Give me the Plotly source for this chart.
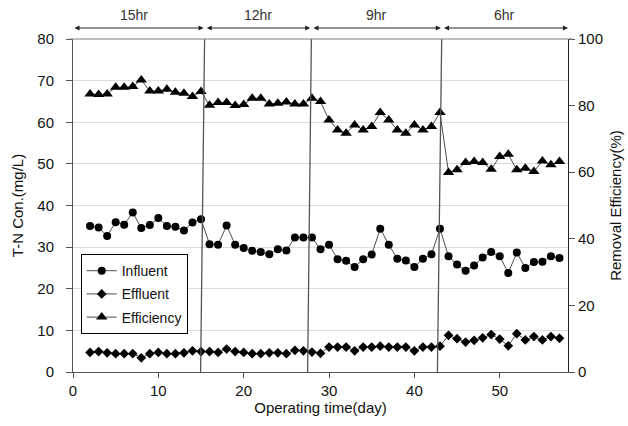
import plotly.graph_objects as go

days = [2, 3, 4, 5, 6, 7, 8, 9, 10, 11, 12, 13, 14, 15, 16, 17, 18, 19, 20, 21,
        22, 23, 24, 25, 26, 27, 28, 29, 30, 31, 32, 33, 34, 35, 36, 37, 38, 39, 40,
        41, 42, 43, 44, 45, 46, 47, 48, 49, 50, 51, 52, 53, 54, 55, 56, 57]

influent = [35.1, 34.7, 32.7, 36.0, 35.4, 38.3, 34.6, 35.3, 37.0, 35.1, 34.9, 34.0,
            35.9, 36.7, 30.7, 30.6, 35.2, 30.6, 29.8, 29.1, 28.8, 28.3, 29.5, 29.2,
            32.3, 32.3, 32.3, 29.5, 30.6, 27.1, 26.7, 25.2, 27.1, 28.2, 34.4, 30.6,
            27.2, 26.8, 25.2, 27.2, 28.3, 34.4, 27.8, 25.8, 24.3, 25.6, 27.5, 28.8,
            27.8, 23.8, 28.7, 25.0, 26.4, 26.5, 27.8, 27.4]

effluent = [4.7, 4.9, 4.6, 4.4, 4.4, 4.4, 3.4, 4.4, 4.7, 4.4, 4.4, 4.6, 5.1, 4.9,
            4.9, 4.7, 5.5, 4.9, 4.7, 4.4, 4.4, 4.6, 4.6, 4.4, 5.2, 5.1, 4.8, 4.5,
            6.0, 6.0, 6.0, 5.1, 6.0, 6.0, 6.2, 6.0, 6.0, 6.0, 5.1, 6.0, 6.0, 6.2,
            8.8, 8.0, 7.2, 7.6, 8.2, 9.0, 7.9, 6.3, 9.2, 7.7, 8.5, 7.7, 8.5, 8.1]

efficiency = [83.5, 83.3, 83.5, 85.5, 85.5, 85.7, 87.7, 84.4, 84.4, 84.9, 84.0, 83.7,
              82.7, 84.2, 80.1, 80.9, 80.9, 80.0, 80.3, 82.2, 82.2, 80.5, 80.7, 81.1,
              80.5, 80.5, 82.2, 81.2, 75.7, 72.7, 71.7, 74.2, 72.7, 73.7, 77.9, 75.7,
              72.7, 71.7, 74.2, 72.7, 73.7, 77.9, 59.9, 60.7, 62.9, 63.2, 62.9, 60.9,
              64.7, 65.4, 60.7, 61.2, 60.2, 63.4, 62.2, 63.2]

phase_labels = ["15hr", "12hr", "9hr", "6hr"]
phase_label_x = [7.2, 21.7, 35.6, 50.6]
phase_start = [0.0, 15.5, 28.0, 43.3]
phase_end = [15.3, 27.8, 43.1, 58.0]
boundary_top = [15.42, 27.93, 43.2]
boundary_bottom = [14.95, 27.49, 42.7]

FONT = "Liberation Sans, Arial, sans-serif"
LINE = "#4d4d4d"

fig = go.Figure()
fig.add_trace(go.Scatter(
    x=days, y=influent, name="Influent", mode="lines+markers", legendgroup="a",
    line=dict(color=LINE, width=1),
    marker=dict(symbol="circle", size=8, color="black")))
fig.add_trace(go.Scatter(
    x=days, y=effluent, name="Effluent", mode="lines+markers", legendgroup="b",
    line=dict(color=LINE, width=1),
    marker=dict(symbol="diamond", size=7.5, color="black")))
fig.add_trace(go.Scatter(
    x=days, y=efficiency, name="Efficiency", mode="lines+markers", yaxis="y2",
    legendgroup="c",
    line=dict(color=LINE, width=1),
    marker=dict(symbol="triangle-up", size=10, color="black")))

shapes = []
for xt, xb in zip(boundary_top, boundary_bottom):
    shapes.append(dict(type="line", xref="x", yref="paper", x0=xt, y0=1, x1=xb, y1=0,
                       line=dict(color="#555555", width=1.3), layer="above"))
shapes.append(dict(type="line", xref="paper", yref="paper", x0=-0.008, x1=1.009,
                   y0=1, y1=1, line=dict(color="#808080", width=1.2)))

annotations = []
for s, e in zip(phase_start, phase_end):
    annotations.append(dict(x=e, y=1.033, xref="x", yref="paper", ax=s, ay=0,
                            axref="x", ayref="pixel", text="", showarrow=True,
                            arrowhead=2, startarrowhead=2, arrowside="end+start",
                            arrowsize=1, arrowwidth=1, arrowcolor="#222222"))
for lab, lx in zip(phase_labels, phase_label_x):
    annotations.append(dict(x=lx, y=1.072, xref="x", yref="paper", text=lab,
                            xanchor="center", yanchor="middle", showarrow=False,
                            font=dict(size=14, color="#333333", family=FONT)))

title_font = dict(family=FONT, size=15, color="#111111")
tick_font = dict(family=FONT, size=15, color="#111111")

fig.update_layout(
    width=628, height=426,
    margin=dict(l=73, r=60, t=39, b=54, autoexpand=False),
    paper_bgcolor="white", plot_bgcolor="white",
    font=dict(family=FONT, size=14, color="#111111"),
    showlegend=True,
    legend=dict(x=0.0156, y=0.354, xanchor="left", yanchor="top",
                bgcolor="white", bordercolor="black", borderwidth=1,
                font=dict(size=14, color="#111111"), tracegroupgap=2,
                itemwidth=30),
    xaxis=dict(range=[0, 58], dtick=10, tick0=0, showgrid=False, zeroline=False,
               showline=True, linecolor="#555555", linewidth=1, automargin=False,
               ticks="outside", ticklen=5, tickcolor="#555555", tickfont=tick_font,
               title=dict(text="Operating time(day)", standoff=3, font=title_font)),
    yaxis=dict(range=[0, 80], dtick=10, tick0=0, showgrid=True, gridcolor="#dcdcdc",
               gridwidth=1, zeroline=False, showline=True, linecolor="#555555",
               linewidth=1, ticks="outside", ticklen=6, tickcolor="#555555",
               automargin=False, tickfont=tick_font, ticklabelstandoff=9,
               title=dict(text="T-N Con.(mg/L)", standoff=10, font=title_font)),
    yaxis2=dict(range=[0, 100], dtick=20, tick0=0, overlaying="y", side="right",
                showgrid=False, zeroline=False, showline=True, linecolor="#222222",
                linewidth=1, ticks="outside", ticklen=6, tickcolor="#555555",
                automargin=False, tickfont=tick_font,
                title=dict(text="Removal Efficiency(%)", standoff=8, font=title_font)),
    shapes=shapes,
    annotations=annotations,
)

fig.write_html("out.html", config={"displayModeBar": False},
               post_script="document.body.style.margin='0';")
